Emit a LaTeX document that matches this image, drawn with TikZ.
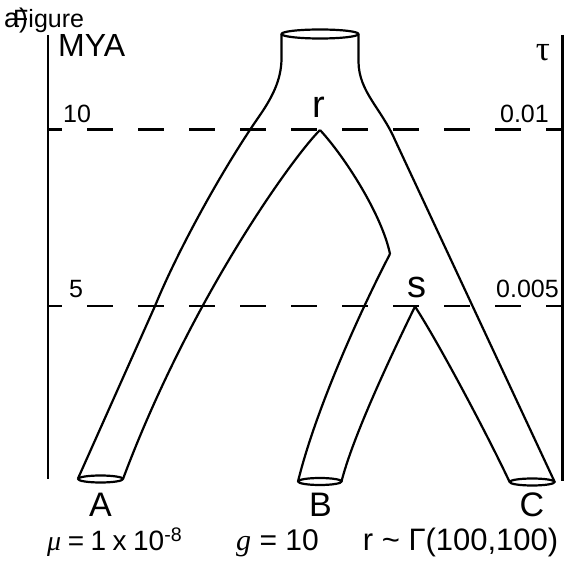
\documentclass[tikz,border=0pt]{standalone}
\usepackage{fontspec}
\setmainfont{Liberation Sans}
\newfontfamily\timesfont{Liberation Serif}
\usetikzlibrary{positioning}

\begin{document}
\begin{tikzpicture}[
  x=1pt, y=-1pt,
  branch/.style={line width=2.2pt, line join=round},
  axisline/.style={line width=2.6pt},
  epoch/.style={line width=2.3pt, dash pattern=on 26pt off 25pt, dash phase=12pt},
  ticklbl/.style={font=\fontsize{25}{25}\selectfont, inner sep=0pt},
  taxon/.style={font=\fontsize{34}{34}\selectfont, inner sep=0pt, anchor=base},
  splitlbl/.style={font=\fontsize{38}{38}\selectfont, inner sep=0pt, anchor=base},
  param/.style={inner sep=0pt}
]
\useasboundingbox (0,0) rectangle (566,561);

% Title
\node[font=\fontsize{25}{25}\selectfont, inner sep=0pt, anchor=base west] (fig) at (13,28) {Figure};
\node[font=\fontsize{27}{27}\selectfont, inner sep=0pt, anchor=base west] (panel) at (4,28) {a)};

% Time axes
\coordinate (myatop) at (48,35);
\coordinate (myabot) at (48,479.5);
\coordinate (tautop) at (562.5,35);
\coordinate (taubot) at (562.5,481);
\draw[axisline] (myatop) -- (myabot);
\draw[axisline] (tautop) -- (taubot);
\node[font=\fontsize{32}{32}\selectfont, inner sep=0pt, anchor=base west] (mya) at (58,57) {MYA};
\node[font=\fontsize{35}{35}\selectfont\timesfont, inner sep=0pt, anchor=base] (tau) at (543,61) {τ};

% Epochs
\draw[epoch] (48,129.5) -- (562.5,129.5);
\draw[epoch] (48,306) -- (562.5,306);
\node[ticklbl, anchor=base west] (t10) at (63,123) {10};
\node[ticklbl, anchor=base west] (t5) at (69,298) {5};
\node[ticklbl, anchor=base east] (tau10) at (549,123) {0.01};
\node[ticklbl, anchor=base east] (tau5) at (559,298) {0.005};

% Species tree
\coordinate (r) at (320,130);
\coordinate (s) at (415,306.5);
\coordinate (bend) at (390,254);
\draw[branch] (281.5,34) -- (281.5,58) .. controls (281.5,80) and (272,98) .. (258,118)
  .. controls (222,170) and (178,250) .. (155,306) -- (78,478.5);
\draw[branch] (358.5,34) -- (358.5,62) .. controls (359,92) and (381,108) .. (395,140) -- (554.7,482);
\draw[branch] (123,479) .. controls (190,300) and (292,158) .. (r);
\draw[branch] (r) .. controls (345,157) and (382,215) .. (bend);
\draw[branch] (bend) .. controls (370,292) and (318,400) .. (298,481.5);
\draw[branch] (341.5,481.5) .. controls (352,440) and (385,368) .. (s);
\draw[branch] (s) .. controls (440,345) and (490,440) .. (509.6,482);
\draw[branch] (320,34) ellipse [x radius=38.5pt, y radius=4.5pt];
\draw[branch] (100.5,479) ellipse [x radius=22.5pt, y radius=3.5pt];
\draw[branch] (319.8,481.5) ellipse [x radius=21.8pt, y radius=3.5pt];
\draw[branch] (532.2,482) ellipse [x radius=22.5pt, y radius=3.5pt];
\node[splitlbl] (rlbl) at (319,118) {r};
\node[splitlbl] (slbl) at (416.5,298) {s};

% Tips
\node[taxon] (A) at (100.5,517) {A};
\node[taxon] (B) at (320.5,517) {B};
\node[taxon] (C) at (532,517) {C};

% Parameters
\node[param, font=\fontsize{28}{28}\selectfont, anchor=base west] (mu) at (47,551) {\spaceskip=6.5pt{\timesfont\itshape μ} = 1 x 10\textsuperscript{-8}};
\node[param, font=\fontsize{30}{30}\selectfont, anchor=base west] (gen) at (236,551) {{\timesfont\itshape g} = 10};
\node[param, font=\fontsize{31}{31}\selectfont, anchor=base east] (rate) at (558.5,551) {r \textasciitilde{} Γ(100,100)};
\end{tikzpicture}
\end{document}
